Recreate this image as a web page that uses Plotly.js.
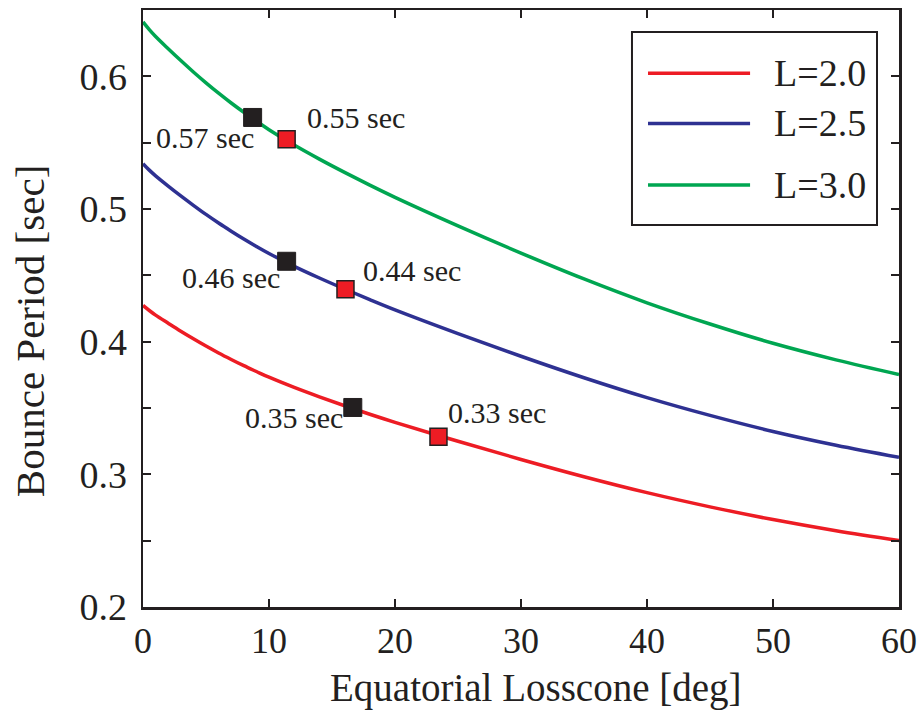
<!DOCTYPE html>
<html>
<head>
<meta charset="utf-8">
<script src="https://cdn.plot.ly/plotly-3.0.1.min.js"></script>
<style>html,body{margin:0;padding:0;background:#fff;}#chart{width:919px;height:717px;}</style>
</head>
<body>
<div id="chart"></div>
<script>
// Equatorial losscone [deg]
const lossconeDeg = [0, 0.5, 1, 2, 3, 4, 5, 6, 7, 8, 9, 10, 12, 14, 16, 18, 20, 25, 30, 35, 40, 45, 50, 55, 60];
// Bounce period [sec] per L-shell
const periodL20 = [0.4273, 0.4235, 0.4200, 0.4139, 0.4079, 0.4022, 0.3967, 0.3915, 0.3866, 0.3819, 0.3775, 0.3732, 0.3655, 0.3584, 0.3517, 0.3453, 0.3392, 0.3249, 0.3112, 0.2982, 0.2862, 0.2755, 0.2659, 0.2575, 0.2502];
const periodL25 = [0.5342, 0.5293, 0.5250, 0.5173, 0.5099, 0.5028, 0.4959, 0.4894, 0.4833, 0.4774, 0.4718, 0.4665, 0.4568, 0.4480, 0.4397, 0.4317, 0.4240, 0.4061, 0.3890, 0.3728, 0.3578, 0.3444, 0.3323, 0.3219, 0.3128];
const periodL30 = [0.6410, 0.6352, 0.6300, 0.6208, 0.6119, 0.6033, 0.5951, 0.5873, 0.5799, 0.5729, 0.5662, 0.5598, 0.5482, 0.5376, 0.5276, 0.5180, 0.5088, 0.4873, 0.4668, 0.4473, 0.4293, 0.4133, 0.3988, 0.3863, 0.3753];
const seriesNames = ["L=2.0", "L=2.5", "L=3.0"];
const seriesColors = ["#ed1c24", "#2e3192", "#00a651"];
const xTitle = "Equatorial Losscone [deg]";
const yTitle = "Bounce Period [sec]";

// Marked points
const blackX = [8.7, 11.4, 16.65];
const blackY = [0.569, 0.4606, 0.3504];
const blackLabels = ["0.57 sec", "0.46 sec", "0.35 sec"];
const redX = [11.4, 16.07, 23.45];
const redY = [0.5525, 0.4395, 0.3283];
const redLabels = ["0.55 sec", "0.44 sec", "0.33 sec"];

const ink = "#231f20";
const serif = "Liberation Serif, Times New Roman, serif";

const seriesY = [periodL20, periodL25, periodL30];
const traces = seriesY.map((ys, i) => ({
  x: lossconeDeg, y: ys, type: "scatter", mode: "lines", name: seriesNames[i],
  line: {color: seriesColors[i], width: 3.5, shape: "spline", smoothing: 1},
  showlegend: false, hoverinfo: "skip"
}));
traces.push({
  x: blackX, y: blackY, type: "scatter", mode: "markers", showlegend: false,
  marker: {symbol: "square", size: 18, color: ink, line: {color: ink, width: 1}}
});
traces.push({
  x: redX, y: redY, type: "scatter", mode: "markers", showlegend: false,
  marker: {symbol: "square", size: 17, color: "#ed1c24", line: {color: ink, width: 1.5}}
});

const blackShift = [[-48, -20], [-56, -16], [-59, -10]];
const redShift = [[69, 22], [67, 19], [59, 24]];
const annotations = [];
blackX.forEach((x, i) => annotations.push({
  x: x, y: blackY[i], xref: "x", yref: "y", text: blackLabels[i], showarrow: false,
  xshift: blackShift[i][0], yshift: blackShift[i][1],
  font: {family: serif, size: 30, color: ink}
}));
redX.forEach((x, i) => annotations.push({
  x: x, y: redY[i], xref: "x", yref: "y", text: redLabels[i], showarrow: false,
  xshift: redShift[i][0], yshift: redShift[i][1],
  font: {family: serif, size: 30, color: ink}
}));

// axis titles (placed slightly off-centre as in the original)
annotations.push({xref: "paper", yref: "paper", x: 0.52, y: -0.1357, xanchor: "center", yanchor: "middle",
  text: xTitle, showarrow: false, font: {family: serif, size: 39, color: ink}});
annotations.push({xref: "paper", yref: "paper", x: -0.1495, y: 0.462, xanchor: "center", yanchor: "middle",
  textangle: -90, text: yTitle, showarrow: false, font: {family: serif, size: 41, color: ink}});

// manual legend
const legendRowsY = [0.894, 0.810, 0.707];
const shapes = [{
  type: "rect", xref: "paper", yref: "paper", x0: 0.6468, x1: 0.9709, y0: 0.6399, y1: 0.9631,
  line: {color: ink, width: 2}, fillcolor: "#ffffff", layer: "above"
}];
seriesNames.forEach((n, i) => {
  shapes.push({type: "line", xref: "paper", yref: "paper", x0: 0.668, x1: 0.803,
    y0: legendRowsY[i], y1: legendRowsY[i], line: {color: seriesColors[i], width: 3.5}, layer: "above"});
  annotations.push({xref: "paper", yref: "paper", x: 0.8316, y: legendRowsY[i], xanchor: "left",
    yanchor: "middle", text: n, showarrow: false, font: {family: serif, size: 38, color: ink}});
});

const axisCommon = {
  showgrid: false, zeroline: false, showline: true, linecolor: ink, linewidth: 2.5,
  mirror: "ticks", ticks: "inside", ticklen: 8, tickwidth: 2, tickcolor: ink
};

const layout = {
  width: 919, height: 717,
  margin: {l: 143, r: 20, t: 10, b: 110},
  paper_bgcolor: "#ffffff", plot_bgcolor: "#ffffff",
  xaxis: Object.assign({}, axisCommon, {
    range: [0, 60], dtick: 10, tick0: 0,
    tickfont: {family: serif, size: 36, color: ink}
  }),
  yaxis: Object.assign({}, axisCommon, {
    range: [0.2, 0.65], dtick: 0.1, tick0: 0.2, ticklabelstandoff: 6,
    tickfont: {family: serif, size: 38, color: ink},
    minor: {dtick: 0.05, ticks: "inside", ticklen: 8, tickwidth: 2, tickcolor: ink, showgrid: false}
  }),
  shapes: shapes,
  annotations: annotations
};

Plotly.newPlot("chart", traces, layout, {displayModeBar: false, staticPlot: true});
</script>
</body>
</html>
